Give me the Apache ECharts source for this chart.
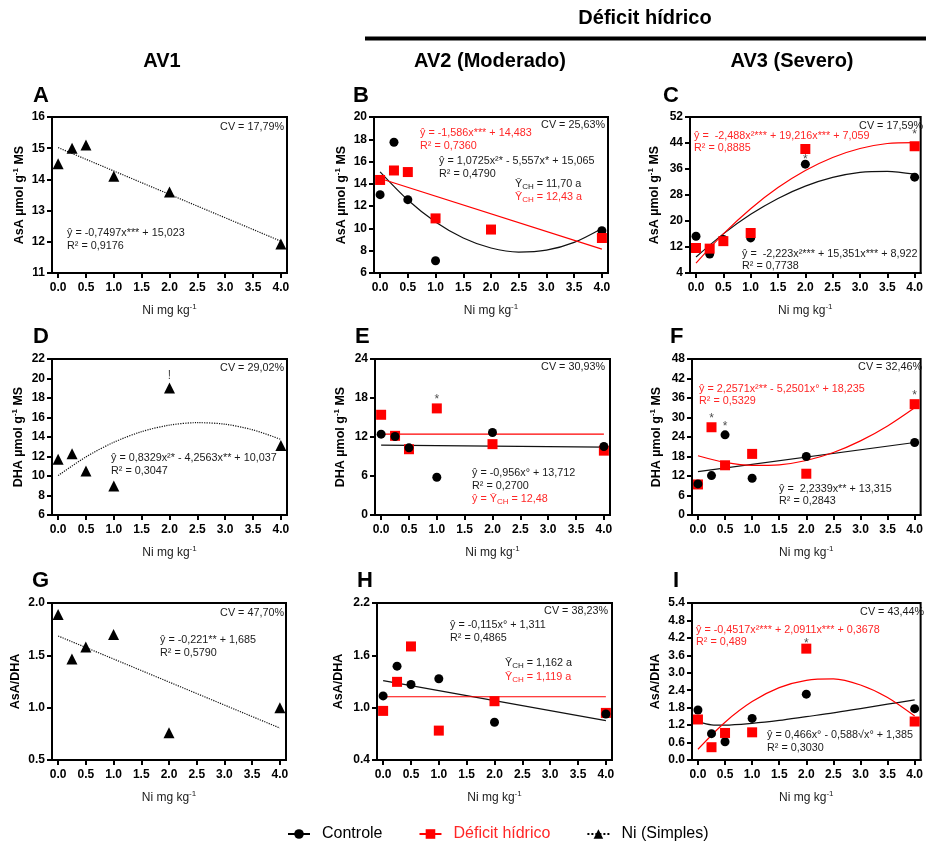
<!DOCTYPE html>
<html><head><meta charset="utf-8">
<script src="https://cdn.jsdelivr.net/npm/echarts@6/dist/echarts.min.js"></script>
<style>html,body{margin:0;padding:0;background:#fff}#c{width:926px;height:846px}</style>
</head><body><div id="c"></div>
<script>
// ---------------- DATA ----------------
const xDose = [0, 0.25, 0.5, 1, 2, 4];
const xTicks = [0, 0.5, 1, 1.5, 2, 2.5, 3, 3.5, 4];
const fitX = [0, 0.5, 1, 1.5, 2, 2.5, 3, 3.5, 4];
const lineX = [0, 4];
const fitXI = [0, 0.25, 0.5, 1, 1.5, 2, 2.5, 3, 3.5, 4];

// A - AsA, AV1
const A_yTicks = [11, 12, 13, 14, 15, 16];
const A_ni = [14.5, 15.0, 15.1, 14.1, 13.6, 11.93];
const A_fitNi = [15.02, 12.02];
// B - AsA, AV2
const B_yTicks = [6, 8, 10, 12, 14, 16, 18, 20];
const B_ctrl = [13.03, 17.73, 12.58, 7.1, 9.9, 9.8];
const B_def = [14.35, 15.2, 15.06, 10.9, 9.9, 9.14];
const B_fitCtrl = [15.07, 12.55, 10.58, 9.14, 8.24, 7.88, 8.05, 8.75, 10.0];
const B_fitDef = [14.48, 8.14];
// C - AsA, AV3
const C_yTicks = [4, 12, 20, 28, 36, 44, 52];
const C_ctrl = [15.3, 9.85, 14.3, 14.8, 37.5, 33.5];
const C_def = [11.7, 11.5, 13.8, 16.3, 42.15, 43.0];
const C_fitCtrl = [8.92, 16.04, 22.05, 26.95, 30.73, 33.41, 34.97, 35.3, 34.4];
const C_fitDef = [7.06, 16.05, 23.79, 30.29, 35.54, 39.55, 42.32, 43.84, 44.11];
const C_marks = [[2, 38.8, '*'], [4, 46.5, '*']];
// D - DHA, AV1
const D_yTicks = [6, 8, 10, 12, 14, 16, 18, 20, 22];
const D_ni = [11.72, 12.27, 10.52, 8.98, 19.02, 13.13];
const D_fitNi = [10.04, 11.96, 13.46, 14.55, 15.22, 15.47, 15.31, 14.73, 13.75];
const D_marks = [[2, 20.3, '!']];
// E - DHA, AV2
const E_yTicks = [0, 6, 12, 18, 24];
const E_ctrl = [12.44, 12.08, 10.33, 5.81, 12.7, 10.53];
const E_def = [15.42, 12.18, 10.12, 16.4, 10.9, 9.9];
const E_fitCtrl = [10.75, 10.45];
const E_fitDef = [12.45, 12.45];
const E_marks = [[1, 17.7, '*']];
// F - DHA, AV3
const F_yTicks = [0, 6, 12, 18, 24, 30, 36, 42, 48];
const F_ctrl = [9.56, 12.13, 24.67, 11.3, 18.0, 22.3];
const F_def = [9.4, 27.0, 15.3, 18.8, 12.7, 34.1];
const F_fitCtrl = [13.35, 22.3];
const F_fitDef = [18.24, 16.17, 15.24, 15.44, 16.76, 19.22, 22.8, 27.4, 33.0];
const F_marks = [[0.25, 29.6, '*'], [0.5, 27.1, '*'], [4, 36.8, '*']];
// G - AsA/DHA, AV1
const G_yTicks = [0.5, 1.0, 1.5, 2.0];
const G_ni = [1.89, 1.465, 1.58, 1.70, 0.76, 1.0];
const G_fitNi = [1.685, 0.805];
// H - AsA/DHA, AV2
const H_yTicks = [0.4, 1.0, 1.6, 2.2];
const H_ctrl = [1.135, 1.476, 1.266, 1.331, 0.833, 0.928];
const H_def = [0.963, 1.296, 1.702, 0.737, 1.074, 0.94];
const H_fitCtrl = [1.311, 0.852];
const H_fitDef = [1.125, 1.125];
// I - AsA/DHA, AV3
const I_yTicks = [0, 0.6, 1.2, 1.8, 2.4, 3.0, 3.6, 4.2, 4.8, 5.4];
const I_ctrl = [1.72, 0.906, 0.627, 1.43, 2.265, 1.765];
const I_def = [1.394, 0.44, 0.93, 0.952, 3.83, 1.324];
const I_fitCtrl = [1.32, 1.21, 1.20, 1.26, 1.36, 1.49, 1.62, 1.77, 1.92, 2.07];
const I_fitDef = [0.37, 1.30, 2.01, 2.49, 2.74, 2.79, 2.58, 2.15, 1.51];
const I_marks = [[2, 4.0, '*']];

// ---------------- STYLE / LAYOUT ----------------
const FONT = '"Liberation Sans", Arial, Helvetica, sans-serif';
const RED = '#ff0000';
const RED_TXT = '#ff2626';
const TXT = '#1a1a1a';
const yNames = {
  asa: 'AsA µmol g{sup|-1} MS',
  dha: 'DHA µmol g{sup|-1} MS',
  ratio: 'AsA/DHA'
};

const panels = [
  {L:'A', g:[52,117,235,156], yr:[11,16], yt:A_yTicks, dec:0, yn:'asa', gap:24, let:[33,97],
   pts:[['ni',A_ni]], fits:[['dot',lineX,A_fitNi]], marks:[]},
  {L:'B', g:[374,117,234,156], yr:[6,20], yt:B_yTicks, dec:0, yn:'asa', gap:24, let:[353,97],
   pts:[['ctrl',B_ctrl],['def',B_def]], fits:[['ctrl',fitX,B_fitCtrl],['def',lineX,B_fitDef]], marks:[]},
  {L:'C', g:[690,117,235,156], yr:[4,52], yt:C_yTicks, dec:0, yn:'asa', gap:27, let:[663,97],
   pts:[['ctrl',C_ctrl],['def',C_def]], fits:[['ctrl',fitX,C_fitCtrl],['def',fitX,C_fitDef]], marks:C_marks},
  {L:'D', g:[52,359,235,156], yr:[6,22], yt:D_yTicks, dec:0, yn:'dha', gap:25, let:[33,338],
   pts:[['ni',D_ni]], fits:[['dot',fitX,D_fitNi]], marks:D_marks},
  {L:'E', g:[375,359,235,156], yr:[0,24], yt:E_yTicks, dec:0, yn:'dha', gap:26, let:[355,338],
   pts:[['def',E_def],['ctrl',E_ctrl]], fits:[['ctrl',lineX,E_fitCtrl],['def',lineX,E_fitDef]], marks:E_marks},
  {L:'F', g:[692,359,233,156], yr:[0,48], yt:F_yTicks, dec:0, yn:'dha', gap:27, let:[670,338],
   pts:[['def',F_def],['ctrl',F_ctrl]], fits:[['ctrl',lineX,F_fitCtrl],['def',fitX,F_fitDef]], marks:F_marks},
  {L:'G', g:[52,603,234,157], yr:[0.5,2.0], yt:G_yTicks, dec:1, yn:'ratio', gap:28, let:[32,582],
   pts:[['ni',G_ni]], fits:[['dot',lineX,G_fitNi]], marks:[]},
  {L:'H', g:[377,603,235,157], yr:[0.4,2.2], yt:H_yTicks, dec:1, yn:'ratio', gap:30, let:[357,582],
   pts:[['def',H_def],['ctrl',H_ctrl]], fits:[['ctrl',lineX,H_fitCtrl],['def',lineX,H_fitDef]], marks:[]},
  {L:'I', g:[692,603,233,157], yr:[0,5.4], yt:I_yTicks, dec:1, yn:'ratio', gap:28, let:[673,582],
   pts:[['ctrl',I_ctrl],['def',I_def]], fits:[['ctrl',fitXI,I_fitCtrl],['def',fitX,I_fitDef]], marks:I_marks}
];

const ptStyle = {
  ctrl: {symbol:'circle', size:9, color:'#000'},
  def:  {symbol:'rect', size:10, color:RED},
  ni:   {symbol:'triangle', size:11, color:'#000'}
};
const fitStyle = {
  ctrl: {color:'#111', width:1.2, type:'solid'},
  def:  {color:RED, width:1.2, type:'solid'},
  dot:  {color:'#111', width:1.2, type:'dotted'}
};

// annotation texts (x,y in px; a = align)
const annots = [
  {x:284,y:127,t:'CV = 17,79%',a:'right'},
  {x:67,y:233,t:'ŷ = -0,7497x*** + 15,023'},
  {x:67,y:246,t:'R² = 0,9176'},

  {x:605,y:125,t:'CV = 25,63%',a:'right'},
  {x:420,y:133,t:'ŷ = -1,586x*** + 14,483',c:RED_TXT},
  {x:420,y:146,t:'R² = 0,7360',c:RED_TXT},
  {x:439,y:161,t:'ŷ = 1,0725x²* - 5,557x* + 15,065'},
  {x:439,y:174,t:'R² = 0,4790'},
  {x:515,y:184,t:'Ȳ{s|CH} = 11,70 a'},
  {x:515,y:197,t:'Ȳ{s|CH} = 12,43 a',c:RED_TXT},

  {x:923,y:126,t:'CV = 17,59%',a:'right'},
  {x:694,y:136,t:'ŷ =  -2,488x²*** + 19,216x*** + 7,059',c:RED_TXT},
  {x:694,y:148,t:'R² = 0,8885',c:RED_TXT},
  {x:742,y:254,t:'ŷ =  -2,223x²*** + 15,351x*** + 8,922'},
  {x:742,y:266,t:'R² = 0,7738'},

  {x:284,y:368,t:'CV = 29,02%',a:'right'},
  {x:111,y:458,t:'ŷ = 0,8329x²* - 4,2563x** + 10,037'},
  {x:111,y:471,t:'R² = 0,3047'},

  {x:605,y:367,t:'CV = 30,93%',a:'right'},
  {x:472,y:473,t:'ŷ = -0,956x° + 13,712'},
  {x:472,y:486,t:'R² = 0,2700'},
  {x:472,y:499,t:'ŷ = Ȳ{s|CH} = 12,48',c:RED_TXT},

  {x:922,y:367,t:'CV = 32,46%',a:'right'},
  {x:699,y:389,t:'ŷ = 2,2571x²** - 5,2501x° + 18,235',c:RED_TXT},
  {x:699,y:401,t:'R² = 0,5329',c:RED_TXT},
  {x:779,y:489,t:'ŷ =  2,2339x** + 13,315'},
  {x:779,y:501,t:'R² = 0,2843'},

  {x:284,y:613,t:'CV = 47,70%',a:'right'},
  {x:160,y:640,t:'ŷ = -0,221** + 1,685'},
  {x:160,y:653,t:'R² = 0,5790'},

  {x:608,y:611,t:'CV = 38,23%',a:'right'},
  {x:450,y:625,t:'ŷ = -0,115x° + 1,311'},
  {x:450,y:638,t:'R² = 0,4865'},
  {x:505,y:663,t:'Ȳ{s|CH} = 1,162 a'},
  {x:505,y:677,t:'Ȳ{s|CH} = 1,119 a',c:RED_TXT},

  {x:924,y:612,t:'CV = 43,44%',a:'right'},
  {x:696,y:630,t:'ŷ = -0,4517x²*** + 2,0911x*** + 0,3678',c:RED_TXT},
  {x:696,y:642,t:'R² = 0,489',c:RED_TXT},
  {x:767,y:735,t:'ŷ = 0,466x° - 0,588√x° + 1,385'},
  {x:767,y:748,t:'R² = 0,3030'}
];

// ---------------- BUILD ----------------
const grids = [], xAxes = [], yAxes = [], series = [], graphics = [];

panels.forEach((p, i) => {
  grids.push({left:p.g[0], top:p.g[1], width:p.g[2], height:p.g[3], show:true,
    borderColor:'#000', borderWidth:2, containLabel:false});
  xAxes.push({
    gridIndex:i, type:'value', min:-0.11, max:4.11,
    axisLine:{show:true, onZero:false, lineStyle:{color:'#000', width:2}},
    axisTick:{show:true, length:5, lineStyle:{color:'#000', width:2}, customValues:xTicks},
    axisLabel:{customValues:xTicks, formatter:v => Number(v).toFixed(1), margin:9,
      fontFamily:FONT, fontWeight:'bold', fontSize:12, color:'#000'},
    splitLine:{show:false},
    name:'Ni mg kg{sup|-1}', nameLocation:'middle', nameGap:30,
    nameTextStyle:{fontFamily:FONT, fontSize:12, color:TXT, lineHeight:16,
      rich:{sup:{fontFamily:FONT, fontSize:8, color:TXT, lineHeight:9, verticalAlign:'top'}}}
  });
  yAxes.push({
    gridIndex:i, type:'value', min:p.yr[0], max:p.yr[1],
    axisLine:{show:true, onZero:false, lineStyle:{color:'#000', width:2}},
    axisTick:{show:true, length:5, lineStyle:{color:'#000', width:2}, customValues:p.yt},
    axisLabel:{customValues:p.yt, formatter:v => Number(v).toFixed(p.dec), margin:7,
      fontFamily:FONT, fontWeight:'bold', fontSize:12, color:'#000'},
    splitLine:{show:false},
    name:yNames[p.yn], nameLocation:'middle', nameGap:p.gap, nameRotate:90,
    nameTextStyle:{fontFamily:FONT, fontSize:12.5, fontWeight:'bold', color:'#000', lineHeight:16,
      rich:{sup:{fontFamily:FONT, fontSize:8, fontWeight:'bold', color:'#000', lineHeight:9, verticalAlign:'top'}}}
  });
  p.fits.forEach(f => {
    const st = fitStyle[f[0]];
    series.push({type:'line', xAxisIndex:i, yAxisIndex:i, showSymbol:false, symbol:'none',
      smooth:f[1].length > 2 ? 0.3 : false, silent:true, z:2,
      lineStyle:{color:st.color, width:st.width, type:st.type},
      data:f[1].map((x, k) => [x, f[2][k]])});
  });
  p.pts.forEach((s, j) => {
    const st = ptStyle[s[0]];
    series.push({type:'scatter', xAxisIndex:i, yAxisIndex:i, symbol:st.symbol, symbolSize:st.size,
      itemStyle:{color:st.color, opacity:1}, silent:true, z:3 + j,
      data:xDose.map((x, k) => [x, s[1][k]])});
  });
  if (p.marks.length) {
    series.push({type:'scatter', xAxisIndex:i, yAxisIndex:i, symbolSize:0, silent:true, z:6,
      label:{show:true, position:'inside', formatter:d => d.data[2],
        fontFamily:FONT, fontSize:12, color:TXT},
      data:p.marks});
  }
  graphics.push({type:'text', left:p.let[0], top:p.let[1] - 12,
    style:{text:p.L, font:'bold 22px ' + FONT, fill:'#000'}});
});

annots.forEach(a => {
  graphics.push({type:'text', x:a.x, y:a.y,
    style:{text:a.t, fill:a.c || TXT, fontFamily:FONT, fontSize:10.8,
      align:a.a || 'left', verticalAlign:'middle',
      rich:{s:{fontFamily:FONT, fontSize:8, fill:a.c || TXT, padding:[5,0,0,0]}}}});
});

// headers
graphics.push({type:'text', x:645, y:18, style:{text:'Déficit hídrico', font:'bold 20px ' + FONT, fill:'#000', align:'center', verticalAlign:'middle'}});
graphics.push({type:'line', shape:{x1:365, y1:38.5, x2:926, y2:38.5}, style:{stroke:'#000', lineWidth:4}});
graphics.push({type:'text', x:162, y:61, style:{text:'AV1', font:'bold 20px ' + FONT, fill:'#000', align:'center', verticalAlign:'middle'}});
graphics.push({type:'text', x:490, y:61, style:{text:'AV2 (Moderado)', font:'bold 20px ' + FONT, fill:'#000', align:'center', verticalAlign:'middle'}});
graphics.push({type:'text', x:792, y:61, style:{text:'AV3 (Severo)', font:'bold 20px ' + FONT, fill:'#000', align:'center', verticalAlign:'middle'}});

// legend dummy series
series.push({type:'line', name:'Controle', xAxisIndex:0, yAxisIndex:0, data:[], symbol:'circle', symbolSize:8,
  itemStyle:{color:'#000'}, lineStyle:{color:'#000', width:2}});
series.push({type:'line', name:'Déficit hídrico', xAxisIndex:0, yAxisIndex:0, data:[], symbol:'rect', symbolSize:8,
  itemStyle:{color:RED}, lineStyle:{color:RED, width:2}});
series.push({type:'line', name:'Ni (Simples)', xAxisIndex:0, yAxisIndex:0, data:[], symbol:'triangle', symbolSize:9,
  itemStyle:{color:'#000'}, lineStyle:{color:'#000', width:1.5, type:'dotted'}});

const chart = echarts.init(document.getElementById('c'), null, {renderer:'canvas'});
chart.setOption({
  animation:false,
  backgroundColor:'#fff',
  grid:grids, xAxis:xAxes, yAxis:yAxes, series:series, graphic:graphics,
  legend:{left:287, top:826, padding:0, itemWidth:22, itemHeight:12, itemGap:36, selectedMode:false,
    textStyle:{fontFamily:FONT, fontSize:16, color:'#000', padding:[0,0,0,7]},
    data:[{name:'Controle'}, {name:'Déficit hídrico', textStyle:{color:RED_TXT}}, {name:'Ni (Simples)'}]}
});
</script>
</body></html>
